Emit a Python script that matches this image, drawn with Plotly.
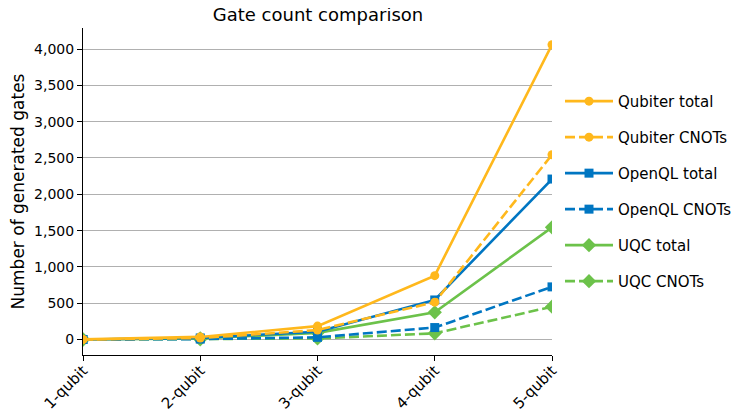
import plotly.graph_objects as go

categories = ["1-qubit", "2-qubit", "3-qubit", "4-qubit", "5-qubit"]
qubiter_total = [2, 36, 185, 880, 4060]
qubiter_cnots = [0, 20, 130, 515, 2545]
openql_total = [1, 22, 108, 545, 2210]
openql_cnots = [0, 6, 30, 165, 725]
uqc_total = [1, 16, 92, 375, 1545]
uqc_cnots = [0, 3, 15, 85, 452]

y_ticks = [0, 500, 1000, 1500, 2000, 2500, 3000, 3500, 4000]

YELLOW = "#FFB81C"
BLUE = "#0076C2"
GREEN = "#6CC24A"

series = [
    ("Qubiter total", qubiter_total, YELLOW, "solid", "circle"),
    ("Qubiter CNOTs", qubiter_cnots, YELLOW, "10px,4px", "circle"),
    ("OpenQL total", openql_total, BLUE, "solid", "square"),
    ("OpenQL CNOTs", openql_cnots, BLUE, "10px,4px", "square"),
    ("UQC total", uqc_total, GREEN, "solid", "diamond"),
    ("UQC CNOTs", uqc_cnots, GREEN, "10px,4px", "diamond"),
]

fig = go.Figure()
for i, (name, vals, color, dash, sym) in enumerate(series):
    fig.add_trace(go.Scatter(
        x=categories, y=vals, name=name, mode="lines+markers",
        line=dict(color=color, width=2.6, dash=dash),
        marker=dict(symbol=sym, size=9 if sym != "diamond" else 11, color=color),
        legendgroup=name, legendrank=i + 1,
    ))
fig.data = tuple(reversed(fig.data))

# page has an 8px body margin, so the figure is offset by 8px
W, H = 732, 403
fig.update_layout(
    width=W, height=H,
    margin=dict(l=75, r=188, t=20, b=56, autoexpand=False),
    paper_bgcolor="white", plot_bgcolor="white",
    font=dict(family="DejaVu Sans", size=14, color="black"),
    title=dict(text="Gate count comparison", x=310 / W, xanchor="center",
               y=1.0, yanchor="top", pad=dict(t=0), font=dict(size=18)),
    legend=dict(x=(469 + 8) / 469, y=0.826, xanchor="left", yanchor="top",
                tracegroupgap=13.5, font=dict(size=15), itemwidth=48,
                traceorder="grouped"),
    showlegend=True,
)
fig.update_xaxes(
    type="category", range=[0, 4], showgrid=False, showline=True, linecolor="black",
    linewidth=1, ticks="outside", ticklen=5, tickcolor="black", tickangle=-45,
    zeroline=False, automargin=False, tickfont=dict(size=15), ticklabelstandoff=-5,
)
fig.update_yaxes(
    range=[-213, 4290], tickvals=y_ticks, tickformat=",", showgrid=True,
    gridcolor="#b0b0b0", gridwidth=1, showline=True, linecolor="black", linewidth=1,
    ticks="outside", ticklen=5, tickcolor="black", zeroline=False, automargin=False,
    title=dict(text="Number of generated gates", standoff=12),
)

fig.write_html("out.html")
